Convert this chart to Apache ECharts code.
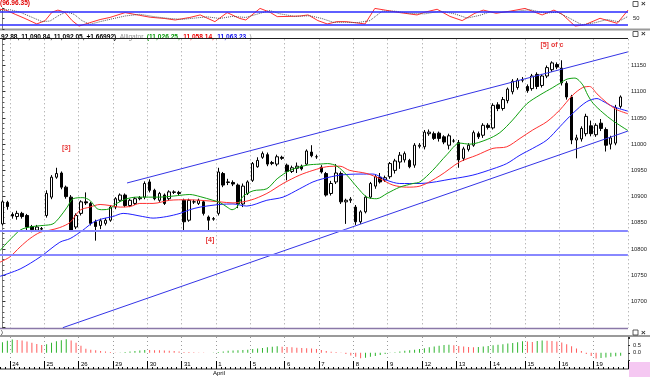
<!DOCTYPE html>
<html>
<head>
<meta charset="utf-8">
<script src="https://cdn.jsdelivr.net/npm/echarts@6/dist/echarts.min.js"></script>
<style>
html,body{margin:0;padding:0;background:#fff}
#chart{width:650px;height:377px}
</style>
</head>
<body>
<div id="chart"></div>
<script>
// trading days shown and how many hourly bars each one has
var days = ["23", "24", "25", "26", "29", "30", "31", "1", "5", "6", "7", "8", "9", "12", "13", "14", "15", "16", "19"];
var barsPerDay = [2, 7, 7, 7, 7, 7, 7, 7, 7, 7, 7, 7, 7, 7, 7, 7, 7, 7, 6];

// hourly bars: [open, close, low, high]
var ohlc = [
  [10848,10890,10845,10893],[10889,10881,10875,10892],[10866,10863,10858,10870],[10862,10868,10856,10873],
  [10868,10862,10858,10871],[10864,10842,10834,10867],[10843,10837,10832,10846],[10836,10842,10833,10846],
  [10839,10838,10835,10842],[10864,10906,10860,10912],[10899,10937,10895,10941],[10937,10944,10934,10955],
  [10945,10918,10914,10948],[10918,10900,10896,10921],[10899,10836,10833,10903],[10842,10864,10838,10868],
  [10868,10890,10864,10893],[10890,10888,10884,10908],[10887,10849,10845,10890],[10852,10843,10816,10856],
  [10845,10854,10838,10858],[10849,10855,10845,10859],[10855,10880,10852,10884],[10880,10896,10876,10899],
  [10893,10903,10890,10906],[10903,10883,10880,10906],[10883,10893,10880,10896],[10887,10896,10884,10899],
  [10896,10898,10893,10901],[10899,10925,10895,10929],[10928,10912,10908,10933],[10912,10896,10893,10915],
  [10893,10906,10890,10909],[10903,10887,10884,10906],[10896,10909,10893,10912],[10908,10909,10905,10912],
  [10908,10906,10902,10911],[10893,10852,10834,10896],[10855,10893,10852,10896],[10890,10890,10886,10894],
  [10887,10893,10884,10896],[10890,10868,10864,10893],[10861,10855,10834,10864],[10857,10858,10854,10861],
  [10868,10947,10864,10955],[10944,10922,10918,10947],[10928,10927,10922,10934],[10927,10924,10920,10931],
  [10922,10886,10878,10925],[10886,10920,10880,10925],[10906,10928,10903,10931],[10931,10963,10928,10966],
  [10957,10969,10955,10975],[10975,10982,10972,10986],[10980,10962,10958,10984],[10963,10965,10960,10968],
  [10962,10976,10958,10980],[10975,10973,10970,10978],[10960,10948,10931,10963],[10948,10955,10945,10959],
  [10954,10958,10945,10965],[10958,10953,10950,10961],[10962,10987,10960,10990],[10985,10978,10975,10998],
  [10976,10976,10972,10980],[10956,10947,10944,10960],[10944,10903,10900,10947],[10906,10925,10902,10930],
  [10928,10945,10924,10962],[10944,10890,10886,10948],[10890,10893,10848,10896],[10893,10895,10888,10899],
  [10880,10852,10846,10884],[10852,10871,10848,10874],[10871,10899,10868,10902],[10899,10925,10896,10928],
  [10920,10938,10915,10941],[10937,10928,10925,10945],[10932,10936,10928,10940],[10938,10963,10934,10966],
  [10950,10968,10944,10972],[10966,10979,10953,10985],[10970,10982,10965,10986],[10969,10957,10954,10972],
  [10960,10998,10955,11002],[10996,10998,10992,11002],[10995,11023,10990,11027],[11020,11023,11016,11028],
  [11020,11011,11008,11024],[11021,11011,11005,11024],[11014,11004,11000,11017],[10998,11016,10990,11020],
  [11006,11006,11003,11010],[11003,10970,10955,11008],[10973,10991,10968,10995],[10990,10998,10986,11002],
  [10998,11022,10995,11026],[11020,11014,11010,11024],[11017,11036,11012,11040],[11036,11032,11028,11040],
  [11031,11074,11028,11078],[11075,11068,11063,11080],[11068,11085,11064,11090],[11083,11105,11078,11108],
  [11100,11120,11095,11124],[11108,11122,11104,11126],[11122,11123,11118,11128],[11110,11102,11098,11114],
  [11106,11130,11102,11134],[11133,11110,11105,11137],[11112,11130,11108,11134],[11130,11146,11126,11150],
  [11142,11155,11138,11158],[11152,11147,11143,11156],[11145,11117,11112,11160],[11116,11090,11085,11120],
  [11090,11008,11000,11094],[11008,11012,10973,11018],[11010,11030,11005,11034],[11020,11053,11015,11058],
  [11035,11020,11015,11045],[11018,11036,11014,11040],[11040,11030,11025,11048],[11028,10998,10986,11032],
  [11000,11012,10990,11016],[11002,11070,10998,11075],[11072,11090,11068,11093]
];

// alligator lines, [bar index, price]
var lips = [[-0.5,10797],[3.6,10836],[6.2,10843],[8.3,10845],[10.3,10848],[11.7,10861],[13.2,10880],[14.4,10896],
  [16.4,10898],[17.8,10893],[19.3,10877],[20.5,10875],[21.9,10877],[23.3,10887],[25.4,10896],[27.4,10899],
  [32.1,10899],[34.8,10901],[38.2,10904],[40.3,10900],[42.9,10893],[44.3,10889],[45.8,10880],[46.8,10875],
  [47.8,10880],[49.0,10900],[51.1,10911],[53.9,10915],[56.0,10934],[58.6,10950],[62.1,10960],[64.7,10962],
  [66.3,10963],[68.2,10958],[70.2,10941],[72.3,10918],[74.3,10899],[76.3,10896],[78.4,10906],[81.0,10918],
  [83.7,10925],[85.1,10928],[87.7,10950],[90.6,10980],[93.2,11002],[95.3,11000],[98.8,11009],[101.4,11022],
  [104.0,11046],[106.9,11077],[109.6,11094],[112.2,11108],[113.6,11116],[115.1,11124],[116.7,11126],
  [118.3,11113],[119.3,11094],[120.4,11078],[122.4,11060],[124.4,11045],[127.5,11026]];
var teeth = [[-0.5,10775],[1.5,10785],[3.6,10804],[5.6,10820],[7.7,10832],[9.7,10836],[11.7,10841],[13.8,10851],
  [15.8,10874],[17.8,10880],[19.9,10885],[21.9,10883],[24.0,10880],[26.0,10881],[28.0,10887],[30.7,10887],
  [34.1,10893],[37.6,10894],[40.3,10893],[44.3,10890],[47.0,10888],[50.5,10893],[53.9,10906],[57.2,10925],
  [60.6,10941],[63.3,10950],[66.1,10957],[68.8,10958],[70.8,10950],[74.3,10944],[77.0,10934],[79.6,10922],
  [82.4,10918],[85.1,10920],[89.2,10940],[93.2,10966],[96.7,10979],[100.0,10992],[102.8,10995],[105.5,11011],
  [108.1,11027],[111.0,11043],[113.6,11065],[116.3,11094],[118.3,11108],[119.7,11110],[121.2,11096],
  [123.2,11079],[125.2,11066],[127.5,11058]];
var jaw = [[-0.5,10748],[3.6,10762],[7.7,10785],[11.7,10813],[13.8,10820],[16.4,10836],[18.5,10851],[20.5,10858],
  [22.5,10862],[24.6,10868],[28.6,10862],[30.7,10859],[33.5,10862],[36.2,10868],[38.2,10875],[40.3,10880],
  [44.3,10885],[47.0,10886],[49.8,10882],[53.9,10893],[57.2,10899],[60.6,10915],[63.3,10928],[65.3,10934],
  [68.8,10941],[72.9,10943],[75.5,10943],[78.4,10931],[81.0,10925],[85.1,10925],[91.8,10934],[95.9,10941],
  [100.0,10953],[102.8,10963],[105.5,10979],[108.1,10992],[111.0,11008],[113.6,11033],[116.3,11059],
  [119.1,11081],[121.2,11087],[122.4,11082],[124.4,11072],[127.5,11063]];

// trend channel and horizontal support levels
var channelUpper = [[25.4,10926],[127.5,11176]];
var channelLower = [[12.3,10650],[127.5,11025]];
var supportLevels = [10835, 10790];

// wave labels
var waveLabels = [
  {name: "[3]", value: [13.0, 10992]},
  {name: "[4]", value: [42.3, 10817]},
  {name: "[5] of c", value: [112.0, 11189]}
];

// stochastic %K and %D, [bar index, value]
var stochK = [[-0.5,94],[0.7,90],[2.6,70],[4.6,50],[7.0,24],[8.7,40],[10.1,80],[11.3,90],[12.7,80],[14.2,40],
  [15.6,14],[17.8,30],[19.9,45],[21.9,55],[25.0,78],[28.0,65],[30.1,56],[33.1,50],[35.2,43],[38.2,55],
  [40.3,67],[43.3,35],[45.8,78],[48.4,50],[49.6,43],[52.5,98],[54.5,80],[56.0,59],[58.6,60],[60.7,62],
  [62.3,67],[64.3,40],[66.2,24],[68.2,35],[70.0,35],[71.9,30],[73.9,24],[75.9,98],[78.0,90],[81.0,78],
  [84.5,67],[86.1,80],[88.6,94],[91.2,60],[93.7,40],[96.3,75],[98.0,90],[100.6,75],[103.5,85],[106.5,98],
  [108.5,80],[110.0,67],[112.4,90],[114.1,70],[116.7,14],[118.7,20],[121.8,51],[123.4,40],[125.3,27],[127.5,90]];
var stochD = [[-0.5,88],[1.5,92],[3.6,80],[5.6,60],[8.1,35],[9.7,38],[11.3,62],[13.0,82],[14.6,70],[16.2,40],
  [17.8,22],[19.9,35],[22.3,48],[25.0,62],[28.0,70],[31.1,58],[34.1,50],[36.6,46],[39.2,52],[41.7,58],
  [44.3,50],[46.8,60],[49.6,55],[52.1,72],[54.5,88],[56.6,72],[59.6,60],[62.7,63],[65.1,50],[67.4,32],
  [69.8,32],[72.3,30],[74.9,40],[77.4,85],[80.0,85],[83.1,74],[86.1,72],[89.2,85],[92.2,72],[94.7,52],
  [97.3,65],[99.4,82],[101.8,80],[104.5,84],[107.5,92],[110.6,76],[113.2,80],[115.7,50],[118.1,20],
  [120.8,30],[123.2,45],[125.5,35],[127.5,60]];
var stochLevels = [80, 20];

// awesome oscillator, one value per bar
var ao = [
  0.74,0.84,0.92,0.90,0.85,0.78,0.70,0.62,0.55,0.60,
  0.70,0.80,0.88,0.95,0.85,0.70,0.50,0.28,0.22,0.17,
  0.13,0.09,0.05,0.02,0.03,0.06,0.09,0.12,0.16,0.20,
  0.19,0.18,0.17,0.16,0.14,0.12,0.10,0.06,0.05,0.04,
  0.03,0.02,0.01,0.02,0.06,0.10,0.14,0.16,0.18,0.20,
  0.22,0.26,0.30,0.34,0.38,0.42,0.45,0.42,0.40,0.38,
  0.36,0.34,0.32,0.30,0.27,0.20,0.12,0.08,0.05,0.02,
  -0.08,-0.18,-0.28,-0.38,-0.34,-0.28,-0.22,-0.15,-0.08,-0.02,
  0.04,0.10,0.14,0.18,0.22,0.26,0.32,0.38,0.44,0.50,
  0.54,0.56,0.52,0.48,0.44,0.40,0.38,0.40,0.44,0.48,
  0.52,0.56,0.60,0.64,0.68,0.74,0.80,0.78,0.76,0.82,
  0.86,0.84,0.82,0.78,0.72,0.60,0.45,0.30,0.12,-0.08,
  -0.22,-0.40,-0.36,-0.32,-0.28,-0.24,-0.20
];

var cats = [];
days.forEach(function (d, k) {
  for (var j = 0; j < barsPerDay[k]; j++) cats.push(d + "#" + j);
});
cats.push("end#1");

function dayStart(i, v) {
  return i > 0 && /#0$/.test(v);
}

var small = "'Liberation Sans', Arial, sans-serif";
var dotted = {show: true, interval: dayStart, lineStyle: {color: "#9a9a9a", type: [1, 3], width: 1}};

var chart = echarts.init(document.getElementById("chart"), null, {renderer: "canvas"});

var option = {
  animation: false,
  backgroundColor: "#fff",
  grid: [
    {left: 0, right: 22, top: 8, height: 21},
    {left: 0, right: 22, top: 39.3, height: 288.4},
    {left: 0, right: 22, top: 337, height: 23},
    {left: 0, right: 22, top: 361, height: 8}
  ],
  xAxis: [
    {type: "value", gridIndex: 0, min: -0.5, max: 127.5, show: false},
    {type: "category", gridIndex: 1, data: cats, boundaryGap: true,
      axisLine: {show: false}, axisTick: {show: false}, axisLabel: {show: false}, splitLine: dotted},
    {type: "value", gridIndex: 1, min: -0.5, max: 127.5, show: false},
    {type: "category", gridIndex: 2, data: cats, boundaryGap: true,
      axisLine: {show: false}, axisTick: {show: false}, axisLabel: {show: false}, splitLine: dotted},
    {type: "category", gridIndex: 3, data: cats, boundaryGap: true,
      axisLine: {show: true, lineStyle: {color: "#9a9a9a", width: 2}},
      axisTick: {show: true, inside: true, length: 2, interval: 0, lineStyle: {color: "#000"}},
      axisLabel: {show: true, inside: true, interval: dayStart, margin: 2, align: "left",
        verticalAlign: "bottom", fontSize: 6, fontFamily: small, color: "#000",
        formatter: function (v) { return v.split("#")[0]; }},
      splitLine: {show: true, interval: dayStart, lineStyle: {color: "#000", width: 1}}}
  ],
  yAxis: [
    {type: "value", gridIndex: 0, position: "right", min: 0, max: 100, interval: 50,
      axisLine: {show: true, lineStyle: {color: "#808080"}},
      axisTick: {show: true, length: 2, lineStyle: {color: "#333"}},
      splitLine: {show: false},
      axisLabel: {fontSize: 5.8, fontFamily: small, color: "#222", margin: 5,
        formatter: function (v) { return v === 50 ? "50" : ""; }}},
    {type: "value", gridIndex: 1, position: "right", min: 10650, max: 11200, interval: 50,
      axisLine: {show: true, lineStyle: {color: "#808080"}},
      axisTick: {show: true, length: 3, lineStyle: {color: "#333"}},
      minorTick: {show: true, splitNumber: 5, length: 2, lineStyle: {color: "#555"}},
      splitLine: {show: false},
      axisLabel: {fontSize: 5.8, fontFamily: small, color: "#222", margin: 3,
        formatter: function (v) { return (v === 10650 || v === 11200) ? "" : String(v); }}},
    {type: "value", gridIndex: 2, position: "right", min: -0.5, max: 1.1, interval: 0.5,
      axisLine: {show: true, lineStyle: {color: "#808080"}},
      axisTick: {show: true, length: 2, lineStyle: {color: "#333"}},
      splitLine: {show: false},
      axisLabel: {fontSize: 5.8, fontFamily: small, color: "#222", margin: 5,
        formatter: function (v) { return v === 0.5 ? "0.5" : (v === 0 ? "0.0" : ""); }}},
    {type: "value", gridIndex: 3, show: false}
  ],
  series: [
    {name: "%K", type: "line", xAxisIndex: 0, yAxisIndex: 0, data: stochK, symbol: "none",
      lineStyle: {color: "#ff3030", width: 1},
      markLine: {silent: true, symbol: "none", label: {show: false},
        lineStyle: {color: "#2a2aff", type: "solid", width: 1.5},
        data: stochLevels.map(function (v) { return {yAxis: v}; })}},
    {name: "%D", type: "line", xAxisIndex: 0, yAxisIndex: 0, data: stochD, symbol: "none",
      lineStyle: {color: "#555", width: 1, type: [1, 1]}},
    {name: "price", type: "candlestick", xAxisIndex: 1, yAxisIndex: 1, data: ohlc, barWidth: 3,
      itemStyle: {color: "#fff", color0: "#000", borderColor: "#000", borderColor0: "#000", borderWidth: 1}},
    {name: "jaw", type: "line", xAxisIndex: 2, yAxisIndex: 1, data: jaw, symbol: "none", smooth: 0.3,
      lineStyle: {color: "#2020ff", width: 1}},
    {name: "teeth", type: "line", xAxisIndex: 2, yAxisIndex: 1, data: teeth, symbol: "none", smooth: 0.3,
      lineStyle: {color: "#ff3030", width: 1}},
    {name: "lips", type: "line", xAxisIndex: 2, yAxisIndex: 1, data: lips, symbol: "none", smooth: 0.3,
      lineStyle: {color: "#10a010", width: 1}},
    {name: "upper", type: "line", xAxisIndex: 2, yAxisIndex: 1, data: channelUpper, symbol: "none",
      lineStyle: {color: "#3434e6", width: 1}},
    {name: "lower", type: "line", xAxisIndex: 2, yAxisIndex: 1, data: channelLower, symbol: "none",
      lineStyle: {color: "#3434e6", width: 1}},
    {name: "support", type: "line", xAxisIndex: 2, yAxisIndex: 1, data: [], symbol: "none",
      markLine: {silent: true, symbol: "none", label: {show: false},
        lineStyle: {color: "#8888ff", type: "solid", width: 2},
        data: supportLevels.map(function (v) { return {yAxis: v}; })}},
    {name: "waves", type: "scatter", xAxisIndex: 2, yAxisIndex: 1, data: waveLabels, symbolSize: 0,
      label: {show: true, position: "inside", formatter: "{b}", color: "#e00000", fontWeight: "bold",
        fontSize: 7, fontFamily: small}},
    {name: "AO", type: "bar", xAxisIndex: 3, yAxisIndex: 2, data: ao, barWidth: 1,
      itemStyle: {color: function (p) {
        var prev = p.dataIndex > 0 ? ao[p.dataIndex - 1] : -Infinity;
        return p.value >= prev ? "#2fb42f" : "#ff5a5a";
      }}}
  ],
  graphic: [
    {type: "text", left: 0, top: 0, style: {text: "(96.96.35)", fill: "#e00000",
      font: "bold 6.6px 'Liberation Sans', Arial, sans-serif"}},
    {type: "rect", shape: {x: 0, y: 28.5, width: 650, height: 2}, style: {fill: "#9a9a9a"}},
    {type: "text", left: 1, top: 31, style: {
      rich: {
        b: {fill: "#000", font: "bold 6.6px 'Liberation Sans', Arial, sans-serif"},
        g: {fill: "#909090", font: "6.6px 'Liberation Sans', Arial, sans-serif"},
        gr: {fill: "#0a9a0a", font: "bold 6.6px 'Liberation Sans', Arial, sans-serif"},
        r: {fill: "#ee0000", font: "bold 6.6px 'Liberation Sans', Arial, sans-serif"},
        bl: {fill: "#1010ee", font: "bold 6.6px 'Liberation Sans', Arial, sans-serif"}
      },
      text: "{b|92.88, 11,090.84, 11,092.05, +1.66992)} {g|Alligator} {gr|(11,026.25,} {r|11,058.14,} {bl|11,063.23} {g|)}"
    }},
    {type: "line", shape: {x1: 0, y1: 38.5, x2: 628, y2: 38.5}, style: {stroke: "#202020", lineWidth: 1}},
    {type: "line", shape: {x1: 0, y1: 328.5, x2: 628, y2: 328.5}, style: {stroke: "#8a78a8", lineWidth: 1.5}},
    {type: "text", left: 1, top: 329.5, style: {text: ")", fill: "#000", font: "5.5px 'Liberation Sans', Arial, sans-serif"}},
    {type: "rect", shape: {x: 0, y: 335, width: 650, height: 2}, style: {fill: "#9a9a9a"}},
    {type: "text", left: 213, top: 370.5, style: {text: "April", fill: "#000", font: "6px 'Liberation Sans', Arial, sans-serif"}},
    {type: "rect", shape: {x: 629, y: 362, width: 21, height: 15}, style: {fill: "#f5c8f2"}},
    {type: "rect", shape: {x: 633, y: 1.5, width: 5, height: 5}, style: {fill: "#fff", stroke: "#333", lineWidth: 0.8}},
    {type: "text", left: 641, top: 0, style: {text: "×", fill: "#333", font: "bold 8px 'Liberation Sans', sans-serif"}},
    {type: "rect", shape: {x: 633, y: 31.5, width: 5, height: 5}, style: {fill: "#fff", stroke: "#333", lineWidth: 0.8}},
    {type: "text", left: 641, top: 30, style: {text: "×", fill: "#333", font: "bold 8px 'Liberation Sans', sans-serif"}},
    {type: "rect", shape: {x: 633, y: 330, width: 5, height: 5}, style: {fill: "#fff", stroke: "#333", lineWidth: 0.8}},
    {type: "text", left: 641, top: 328.5, style: {text: "×", fill: "#333", font: "bold 8px 'Liberation Sans', sans-serif"}}
  ]
};

chart.setOption(option);
</script>
</body>
</html>
